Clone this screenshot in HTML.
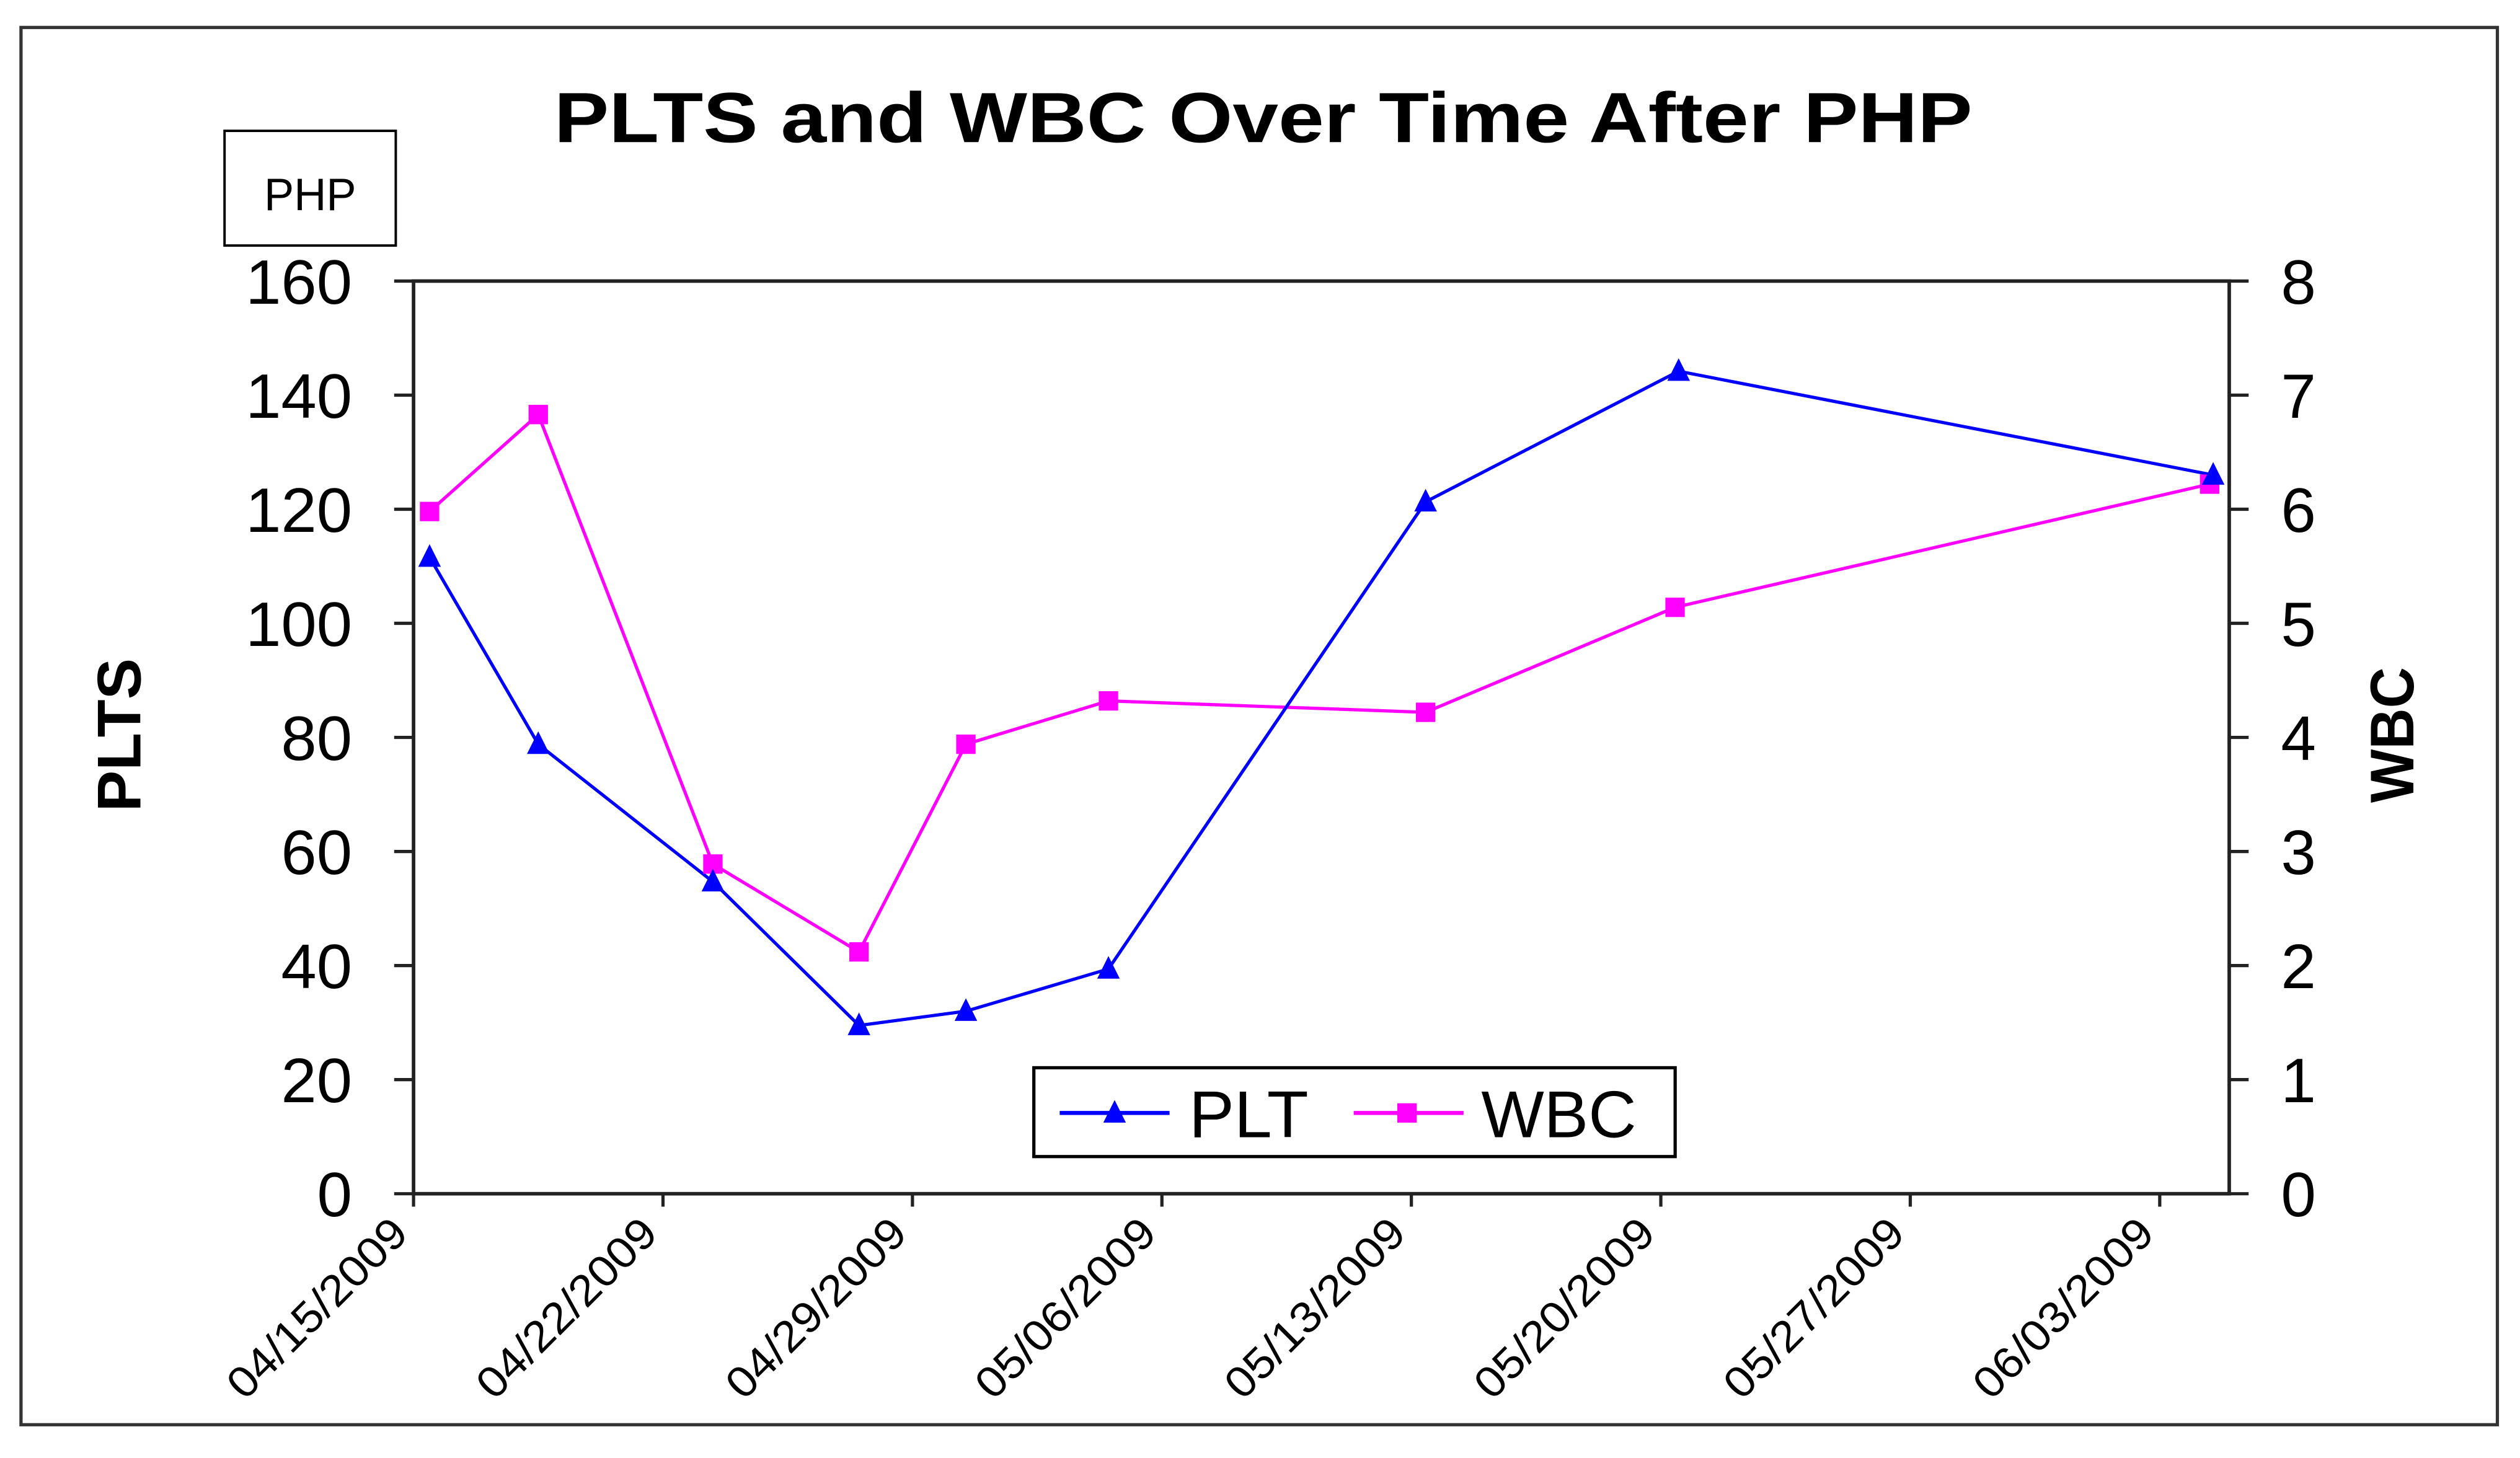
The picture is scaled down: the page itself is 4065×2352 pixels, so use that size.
<!DOCTYPE html>
<html><head><meta charset="utf-8"><style>
html,body{margin:0;padding:0;background:#fff;}
svg{display:block;}
text{font-family:"Liberation Sans",Arial,sans-serif;fill:#000;}
</style></head><body>
<svg id="chart" width="4065" height="2352" viewBox="0 0 1560 902.6" preserveAspectRatio="none" xmlns="http://www.w3.org/2000/svg">
<rect x="13" y="17" width="1533" height="865" fill="#fff" stroke="#333" stroke-width="2"/>
<text x="782" y="88" text-anchor="middle" font-size="44" font-weight="bold" textLength="878" lengthAdjust="spacingAndGlyphs">PLTS and WBC Over Time After PHP</text>
<g>
<rect x="139" y="81" width="106" height="71" fill="#fff" stroke="#000" stroke-width="1.5"/>
<text x="192" y="130" text-anchor="middle" font-size="28" textLength="57" lengthAdjust="spacingAndGlyphs">PHP</text>
</g>
<g id="axes"></g>
<g id="series"></g>
<text transform="translate(87,455) rotate(-90)" text-anchor="middle" font-size="38" font-weight="bold" textLength="95" lengthAdjust="spacingAndGlyphs">PLTS</text>
<text transform="translate(1494,455) rotate(-90)" text-anchor="middle" font-size="38" font-weight="bold" textLength="84" lengthAdjust="spacingAndGlyphs">WBC</text>
<g>
<rect x="640" y="661" width="397" height="55" fill="#fff" stroke="#000" stroke-width="2"/>
<g>
<line x1="656" y1="689" x2="724" y2="689" stroke="#0000ff" stroke-width="2.5"/>
<polygon points="690,681 697,695 683,695" fill="#0000ff"/>
<text x="736" y="704" font-size="41" textLength="74" lengthAdjust="spacingAndGlyphs">PLT</text>
</g>
<g>
<line x1="838" y1="689" x2="906" y2="689" stroke="#ff00ff" stroke-width="2.5"/>
<rect x="865" y="683" width="12" height="12" fill="#ff00ff"/>
<text x="917" y="704" font-size="41" textLength="96" lengthAdjust="spacingAndGlyphs">WBC</text>
</g>
</g>
</svg>
<script>
const xTickLabels = ["04/15/2009","04/22/2009","04/29/2009","05/06/2009","05/13/2009","05/20/2009","05/27/2009","06/03/2009"];
const xTickDays = [0,7,14,21,28,35,42,49];
const leftTicks = [0,20,40,60,80,100,120,140,160];
const rightTicks = [0,1,2,3,4,5,6,7,8];
const pltDays = [0.45,3.5,8.4,12.5,15.5,19.5,28.4,35.5,50.5];
const pltValues = [111.6,78.8,54.7,29.5,32,39.4,121.3,144.2,126];
const wbcDays = [0.45,3.5,8.4,12.5,15.5,19.5,28.4,35.4,50.4];
const wbcValues = [5.98,6.83,2.89,2.12,3.94,4.32,4.22,5.14,6.22];

const NS="http://www.w3.org/2000/svg";
const X0=256,X1=1380,Y0=739,Y1=174,DMAX=50.95;
const xs=d=>X0+(d/DMAX)*(X1-X0);
const yl=v=>Y0-(v/160)*(Y0-Y1);
const yr=v=>Y0-(v/8)*(Y0-Y1);
function mk(t,a,p){const e=document.createElementNS(NS,t);for(const k in a)e.setAttribute(k,a[k]);p.appendChild(e);return e;}
const axes=document.getElementById('axes'),series=document.getElementById('series');

let e=mk('rect',{x:X0,y:Y1,width:X1-X0,height:Y0-Y1,fill:'none',stroke:'#222','stroke-width':2.2},axes);


leftTicks.forEach(v=>{
  const t=mk('line',{x1:X0-12,x2:X0,y1:yl(v),y2:yl(v),stroke:'#222','stroke-width':2},axes);
  
  
  const s=String(v);
  const attrs={x:218,y:yl(v)+14,'text-anchor':'end','font-size':39};
  if(s.length>1){attrs.textLength=s.length*22;attrs.lengthAdjust='spacingAndGlyphs';}
  const l=mk('text',attrs,axes);
  l.textContent=s;
  
  
});
rightTicks.forEach(v=>{
  const t=mk('line',{x1:X1,x2:X1+12,y1:yr(v),y2:yr(v),stroke:'#222','stroke-width':2},axes);
  
  
  const l=mk('text',{x:1412,y:yr(v)+14,'text-anchor':'start','font-size':39},axes);
  l.textContent=v;
  
  
});
xTickDays.forEach((d,i)=>{
  const x=xs(d);
  const t=mk('line',{x1:x,x2:x,y1:Y0,y2:Y0+8,stroke:'#222','stroke-width':2},axes);
  
  
  const l=mk('text',{transform:`translate(${x-2},${Y0+26}) rotate(-45)`,'text-anchor':'end','font-size':27,textLength:145,lengthAdjust:'spacingAndGlyphs'},axes);
  l.textContent=xTickLabels[i];
  
  
});

const wl=mk('polyline',{points:wbcDays.map((d,i)=>xs(d)+','+yr(wbcValues[i])).join(' '),fill:'none',stroke:'#ff00ff','stroke-width':2},series);


const pl=mk('polyline',{points:pltDays.map((d,i)=>xs(d)+','+yl(pltValues[i])).join(' '),fill:'none',stroke:'#0000ff','stroke-width':2},series);


wbcDays.forEach((d,i)=>{
  const x=xs(d),y=yr(wbcValues[i]);
  const m=mk('rect',{x:x-6,y:y-6,width:12,height:12,fill:'#ff00ff'},series);
  
  
});
pltDays.forEach((d,i)=>{
  const x=xs(d),y=yl(pltValues[i]);
  const m=mk('polygon',{points:`${x},${y-8} ${x+7},${y+6} ${x-7},${y+6}`,fill:'#0000ff'},series);
  
  
});
</script>
</body></html>
